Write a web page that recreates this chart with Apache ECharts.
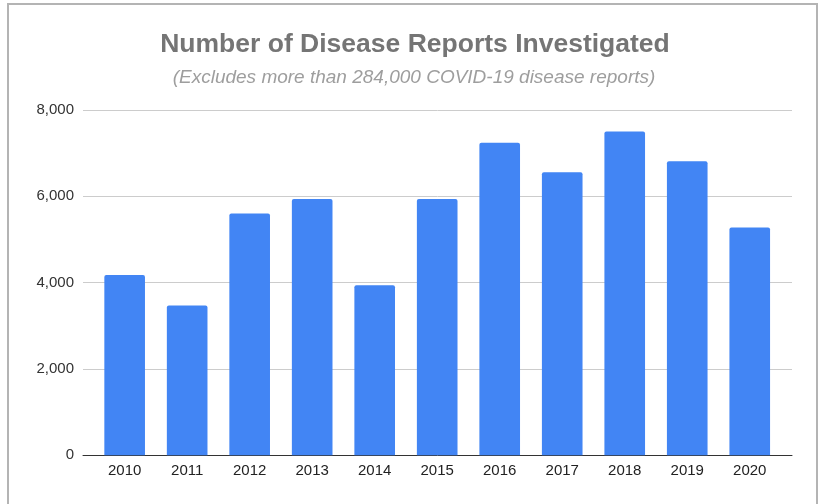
<!DOCTYPE html>
<html>
<head>
<meta charset="utf-8">
<script src="https://cdn.jsdelivr.net/npm/echarts@6/dist/echarts.min.js"></script>
<style>
html,body{margin:0;padding:0;background:#fff;}
#c{width:819px;height:504px;}
</style>
</head>
<body>
<div id="c"></div>
<script>
var years = ['2010','2011','2012','2013','2014','2015','2016','2017','2018','2019','2020'];
var reports = [4180, 3470, 5600, 5940, 3940, 5940, 7240, 6560, 7500, 6810, 5280];
var yTicks = [0, 2000, 4000, 6000, 8000];
var titleText = 'Number of Disease Reports Investigated';
var subtitleText = '(Excludes more than 284,000 COVID-19 disease reports)';

var FONT = 'Liberation Sans, Arial, sans-serif';
var chart = echarts.init(document.getElementById('c'));
chart.setOption({
  backgroundColor: '#fff',
  animation: false,
  title: [{
    text: titleText,
    left: 410,
    textAlign: 'center',
    top: 26,
    textStyle: {fontFamily: FONT, fontSize: 26.5, fontWeight: 'bold', color: '#757575'}
  }, {
    text: subtitleText,
    left: 409,
    textAlign: 'center',
    top: 63,
    textStyle: {fontFamily: FONT, fontSize: 19, fontStyle: 'italic', fontWeight: 'normal', color: '#9e9e9e'}
  }],
  graphic: [{
    type: 'rect',
    shape: {x: 8, y: 4, width: 809, height: 520},
    style: {fill: 'none', stroke: '#b4b4b4', lineWidth: 2},
    silent: true
  }],
  grid: [
    {left: 83, right: 27, top: 110, bottom: 48.7},
    {left: 93.4, right: 38, top: 110, bottom: 48.7}
  ],
  xAxis: [{
    type: 'value',
    gridIndex: 0,
    min: 0,
    max: 1,
    axisLine: {show: true, onZero: true, lineStyle: {color: '#333', width: 1}},
    axisTick: {show: false},
    axisLabel: {show: false},
    splitLine: {show: false}
  }, {
    type: 'category',
    gridIndex: 1,
    data: years,
    axisLine: {show: false},
    axisTick: {show: false},
    axisLabel: {margin: 8, fontFamily: FONT, fontSize: 15, color: '#222'}
  }],
  yAxis: [{
    type: 'value',
    gridIndex: 0,
    min: yTicks[0],
    max: yTicks[yTicks.length - 1],
    interval: 2000,
    axisLine: {show: false},
    axisTick: {show: false},
    splitLine: {lineStyle: {color: '#cccccc', width: 1}},
    axisLabel: {
      margin: 9,
      fontFamily: FONT,
      fontSize: 15,
      color: '#333',
      formatter: function (v) { return v.toLocaleString('en-US'); }
    }
  }, {
    type: 'value',
    gridIndex: 1,
    min: yTicks[0],
    max: yTicks[yTicks.length - 1],
    interval: 2000,
    show: false
  }],
  series: [{
    type: 'bar',
    xAxisIndex: 1,
    yAxisIndex: 1,
    data: reports,
    barCategoryGap: '35%',
    itemStyle: {color: '#4285f4', borderRadius: [2, 2, 0, 0]}
  }]
});
</script>
</body>
</html>
